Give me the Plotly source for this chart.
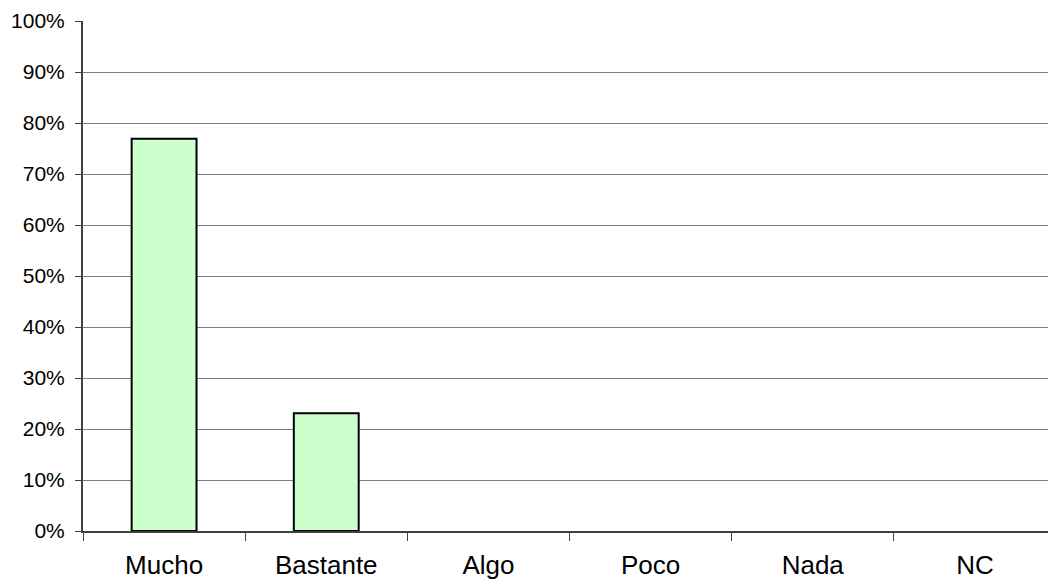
import plotly.graph_objects as go

categories = ["Mucho", "Bastante", "Algo", "Poco", "Nada", "NC"]
values = [0.769, 0.231, 0, 0, 0, 0]

fig = go.Figure(go.Bar(
    x=categories, y=values, width=0.4,
    marker=dict(color="#CCFFCC",
                line=dict(color="#000000", width=[2 if v > 0 else 0 for v in values])),
))

fam = "Liberation Sans, Arial, sans-serif"

# page body has an 8px margin; figure is sized/offset so the plot area lands where the reference has it
fig.update_layout(
    width=1048, height=578,
    margin=dict(l=75, r=0, t=13, b=55),
    plot_bgcolor="#FFFFFF", paper_bgcolor="#FFFFFF",
    showlegend=False, font=dict(family=fam, size=21, color="#000000"),
)
fig.update_xaxes(
    type="category", range=[-0.5, 5.5], automargin=False,
    showline=True, linecolor="#404040", linewidth=2,
    ticks="outside", tickson="boundaries", ticklen=8, tickcolor="#404040", tickwidth=1,
    showgrid=False, ticklabelstandoff=10,
    tickfont=dict(family=fam, size=26, color="#000000"),
)
fig.update_yaxes(
    range=[0, 1], dtick=0.1, tickformat=".0%", automargin=False,
    showline=True, linecolor="#404040", linewidth=2,
    ticks="outside", ticklen=6, tickcolor="#404040", tickwidth=1,
    showgrid=True, gridcolor="#808080", gridwidth=1,
    zeroline=False, ticklabelstandoff=6,
    tickfont=dict(family=fam, size=21, color="#000000"),
)

fig.write_html("out.html")
